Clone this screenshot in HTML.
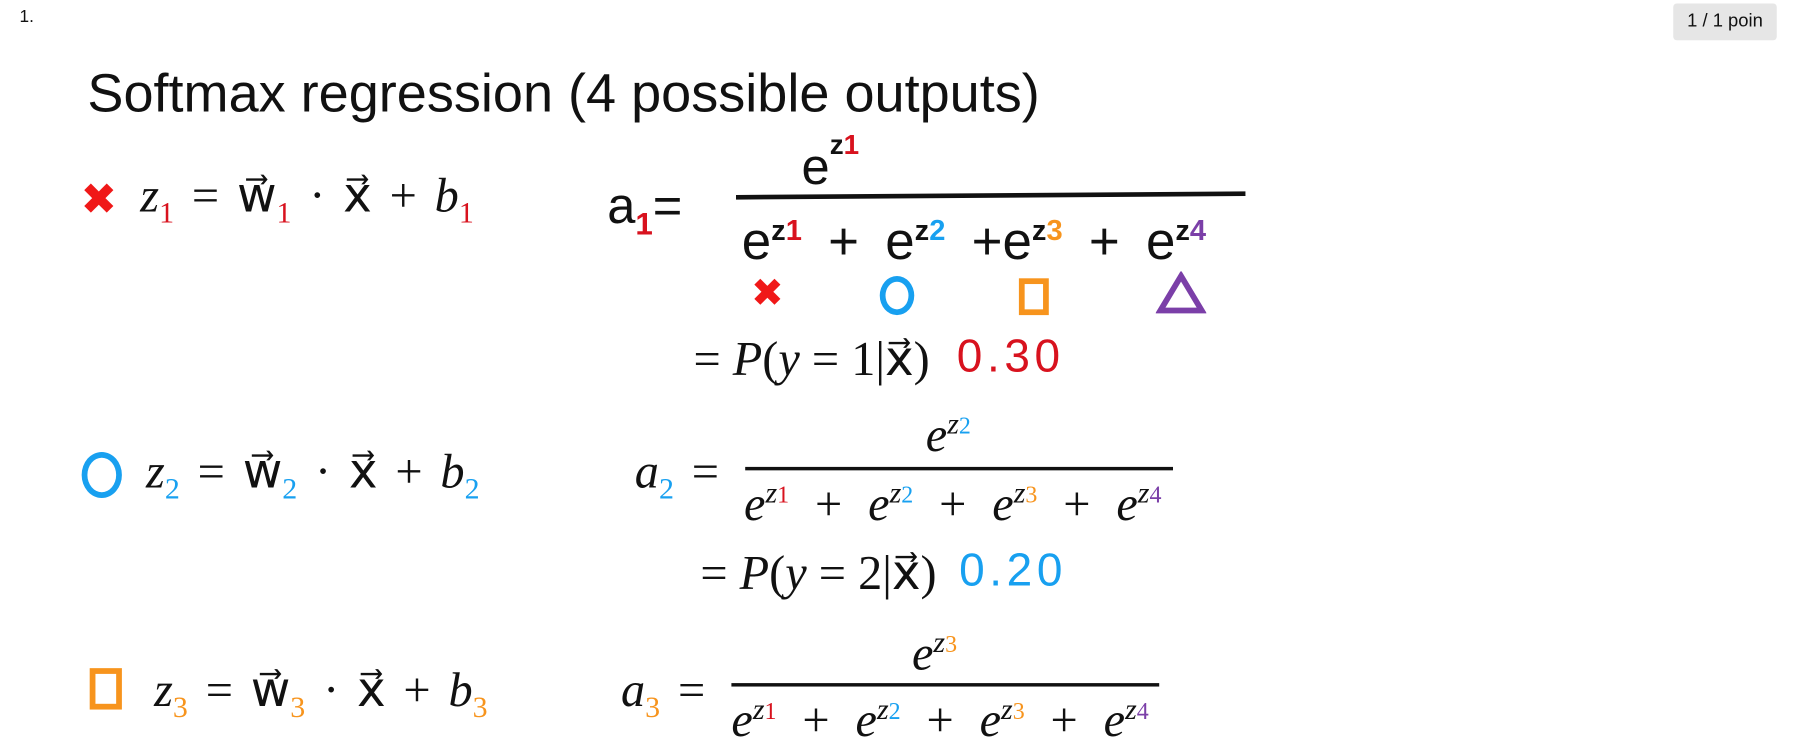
<!DOCTYPE html>
<html><head><meta charset="utf-8"><style>
html,body{margin:0;padding:0;background:#fff;width:1794px;height:736px;overflow:hidden}
#c{position:absolute;left:0;top:0;width:1560px;height:640px;transform:scale(1.15);transform-origin:0 0}
.a{position:absolute;white-space:nowrap;line-height:1}
.m{font-family:"Liberation Serif",serif;font-size:42px;color:#111;word-spacing:5px}
.i{font-style:italic}
.h{font-family:"Liberation Sans",sans-serif;color:#111}
sub,sup{font-size:62%}
.r{color:#d8121e}.b{color:#18a0f0}.o{color:#f7941d}.p{color:#7b3fa8}
.bar{position:absolute;background:#111}
.d{word-spacing:12px}
</style></head><body>
<div id="c">
<div class="a h" style="left:17px;top:7px;font-size:15px">1.</div>
<div class="a h" style="left:1455px;top:3px;width:90px;height:32px;background:#e6e6e6;border-radius:3px;font-size:16px;line-height:32px;text-align:center">1 / 1 poin</div>
<div class="a h" style="left:76px;top:57px;font-size:47px">Softmax regression (4 possible outputs)</div>

<!-- row 1 -->
<div class="a" style="left:70px;top:154px;font-size:38px;color:#f01818;font-family:'DejaVu Sans',sans-serif;font-weight:bold">✖</div>
<div class="a m" style="left:122px;top:150px"><span class="i">z</span><sub class="r">1</sub> = w⃗<sub class="r">1</sub> · x⃗ + <span class="i">b</span><sub class="r">1</sub></div>
<div class="a h" style="left:528px;top:158px;font-size:44px">a<sub class="r" style="font-weight:bold">1</sub>=</div>
<div class="a h" style="left:697px;top:124px;font-size:44px">e<sup style="font-size:55%;position:relative;top:-10px;font-weight:bold">z<span class="r">1</span></sup></div>
<div class="bar" style="left:640px;top:168px;width:443px;height:4px;transform:rotate(-0.4deg)"></div>
<div class="a h" style="left:645px;top:186px;font-size:46px;word-spacing:10px">e<sup style="font-size:55%;font-weight:bold">z<span class="r">1</span></sup> + e<sup style="font-size:55%;font-weight:bold">z<span class="b">2</span></sup> +e<sup style="font-size:55%;font-weight:bold">z<span class="o">3</span></sup> + e<sup style="font-size:55%;font-weight:bold">z<span class="p">4</span></sup></div>
<div class="a" style="left:653px;top:238px;font-size:34px;color:#f01818;font-family:'DejaVu Sans',sans-serif;font-weight:bold">✖</div>
<div class="a" style="left:765px;top:240px;width:30px;height:34px;border:5px solid #18a0f0;border-radius:50%;box-sizing:border-box"></div>
<div class="a" style="left:886px;top:242px;width:26px;height:32px;border:5px solid #f7941d;box-sizing:border-box"></div>
<svg class="a" style="left:1005px;top:236px" width="44" height="38"><polygon points="22,4 40,34 4,34" fill="none" stroke="#7b3fa8" stroke-width="5"/></svg>
<div class="a m" style="left:603px;top:292px;word-spacing:0">= <span class="i">P</span>(<span class="i">y</span> = 1|x⃗)</div>
<div class="a h r" style="left:832px;top:290px;font-size:40px;letter-spacing:4px">0.30</div>

<!-- row 2 -->
<div class="a" style="left:71px;top:393px;width:35px;height:40px;border:5px solid #18a0f0;border-radius:50%;box-sizing:border-box"></div>
<div class="a m" style="left:127px;top:390px"><span class="i">z</span><sub class="b">2</sub> = w⃗<sub class="b">2</sub> · x⃗ + <span class="i">b</span><sub class="b">2</sub></div>
<div class="a m" style="left:552px;top:390px"><span class="i">a</span><sub class="b">2</sub> =</div>
<div class="a m" style="left:805px;top:356px"><span class="i">e</span><sup><span class="i">z</span><span class="b" style="font-size:80%">2</span></sup></div>
<div class="bar" style="left:648px;top:406px;width:372px;height:3px"></div>
<div class="a m d" style="left:647px;top:416px"><span class="i">e</span><sup><span class="i">z</span><span class="r" style="font-size:80%">1</span></sup> + <span class="i">e</span><sup><span class="i">z</span><span class="b" style="font-size:80%">2</span></sup> + <span class="i">e</span><sup><span class="i">z</span><span class="o" style="font-size:80%">3</span></sup> + <span class="i">e</span><sup><span class="i">z</span><span class="p" style="font-size:80%">4</span></sup></div>
<div class="a m" style="left:609px;top:478px;word-spacing:0">= <span class="i">P</span>(<span class="i">y</span> = 2|x⃗)</div>
<div class="a h b" style="left:834px;top:476px;font-size:40px;letter-spacing:4px">0.20</div>

<!-- row 3 -->
<div class="a" style="left:78px;top:581px;width:28px;height:36px;border:5px solid #f7941d;box-sizing:border-box"></div>
<div class="a m" style="left:134px;top:580px"><span class="i">z</span><sub class="o">3</sub> = w⃗<sub class="o">3</sub> · x⃗ + <span class="i">b</span><sub class="o">3</sub></div>
<div class="a m" style="left:540px;top:580px"><span class="i">a</span><sub class="o">3</sub> =</div>
<div class="a m" style="left:793px;top:546px"><span class="i">e</span><sup><span class="i">z</span><span class="o" style="font-size:80%">3</span></sup></div>
<div class="bar" style="left:636px;top:594px;width:372px;height:3px"></div>
<div class="a m d" style="left:636px;top:604px"><span class="i">e</span><sup><span class="i">z</span><span class="r" style="font-size:80%">1</span></sup> + <span class="i">e</span><sup><span class="i">z</span><span class="b" style="font-size:80%">2</span></sup> + <span class="i">e</span><sup><span class="i">z</span><span class="o" style="font-size:80%">3</span></sup> + <span class="i">e</span><sup><span class="i">z</span><span class="p" style="font-size:80%">4</span></sup></div>
</div>
</body></html>
